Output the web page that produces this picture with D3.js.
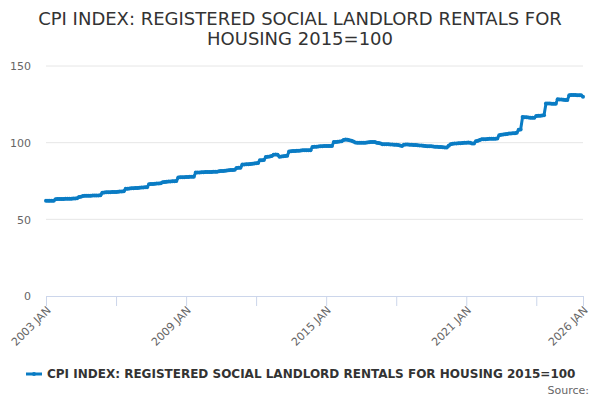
<!DOCTYPE html>
<html>
<head>
<meta charset="utf-8">
<script src="https://cdn.jsdelivr.net/npm/d3@7"></script>
<style>
    body { margin: 0; background: #fff; }
    text { font-family: "DejaVu Sans", sans-serif; }
</style>
</head>
<body>
<div id="chart"></div>
<script>
// Chart text
var TITLE_LINES = ['CPI INDEX: REGISTERED SOCIAL LANDLORD RENTALS FOR', 'HOUSING 2015=100'];
var SERIES_NAME = 'CPI INDEX: REGISTERED SOCIAL LANDLORD RENTALS FOR HOUSING 2015=100';
var SOURCE_TEXT = 'Source:';

// Monthly index values, Jan..Dec
var FIRST_YEAR = 2003;
var y2003 = [62.1, 62.1, 62.2, 62.2, 62.2, 63.1, 63.2, 63.2, 63.3, 63.3, 63.4, 63.4];
var y2004 = [63.5, 63.5, 63.6, 63.6, 63.7, 64.6, 64.8, 65.2, 65.3, 65.3, 65.4, 65.4];
var y2005 = [65.5, 65.5, 65.6, 65.6, 65.7, 67.4, 67.5, 67.6, 67.7, 67.7, 67.8, 67.8];
var y2006 = [67.9, 68.0, 68.1, 68.2, 68.3, 69.9, 70.0, 70.1, 70.2, 70.3, 70.4, 70.5];
var y2007 = [70.6, 70.7, 70.8, 70.9, 71.0, 72.9, 73.0, 73.1, 73.2, 73.3, 73.4, 73.5];
var y2008 = [74.2, 74.4, 74.5, 74.6, 74.7, 74.8, 74.9, 75.0, 77.3, 77.4, 77.5, 77.5];
var y2009 = [77.6, 77.6, 77.7, 77.7, 77.8, 80.5, 80.6, 80.6, 80.7, 80.7, 80.8, 80.8];
var y2010 = [80.9, 80.9, 81.0, 81.0, 81.1, 81.4, 81.5, 81.6, 81.7, 81.8, 82.0, 82.1];
var y2011 = [82.2, 82.4, 83.5, 83.6, 83.7, 85.7, 85.8, 85.9, 86.0, 86.1, 86.2, 86.4];
var y2012 = [86.6, 86.8, 88.5, 88.6, 88.7, 90.6, 90.8, 91.0, 91.3, 92.2, 92.3, 92.2];
var y2013 = [90.8, 90.9, 91.1, 91.3, 91.4, 94.3, 94.4, 94.5, 94.6, 94.7, 94.8, 94.9];
var y2014 = [95.0, 95.0, 95.1, 95.1, 95.1, 97.2, 97.3, 97.4, 97.5, 97.6, 97.7, 97.8];
var y2015 = [97.8, 97.9, 97.9, 97.9, 100.4, 100.5, 100.6, 100.7, 100.9, 101.8, 102.0, 101.9];
var y2016 = [101.5, 101.2, 100.8, 100.1, 100.0, 99.9, 99.9, 99.9, 100.0, 100.1, 100.3, 100.5];
var y2017 = [100.5, 100.4, 100.0, 99.8, 99.5, 99.0, 99.0, 98.9, 98.9, 98.8, 98.8, 98.7];
var y2018 = [98.6, 98.4, 98.2, 97.9, 98.6, 98.8, 98.8, 98.7, 98.6, 98.5, 98.4, 98.3];
var y2019 = [98.2, 98.1, 98.0, 97.8, 97.7, 97.7, 97.6, 97.5, 97.4, 97.3, 97.2, 97.1];
var y2020 = [97.0, 96.9, 96.8, 98.0, 99.0, 99.3, 99.4, 99.5, 99.6, 99.7, 99.8, 99.9];
var y2021 = [100.0, 100.1, 100.0, 99.5, 99.5, 100.9, 101.2, 101.8, 102.2, 102.3, 102.3, 102.4];
var y2022 = [102.5, 102.5, 102.6, 102.6, 102.7, 104.9, 105.1, 105.3, 105.5, 105.7, 105.9, 106.0];
var y2023 = [106.1, 106.2, 106.4, 108.4, 108.6, 116.7, 116.6, 116.5, 116.4, 116.3, 116.2, 116.2];
var y2024 = [117.4, 117.5, 117.6, 117.7, 117.9, 125.5, 125.5, 125.5, 125.4, 125.4, 125.4, 128.3];
var y2025 = [128.2, 128.1, 128.0, 127.9, 127.8, 131.0, 131.1, 131.1, 131.1, 131.0, 131.0, 131.0];
var y2026 = [130.0];

var YEARS = [y2003, y2004, y2005, y2006, y2007, y2008, y2009, y2010, y2011, y2012, y2013, y2014,
             y2015, y2016, y2017, y2018, y2019, y2020, y2021, y2022, y2023, y2024, y2025, y2026];

// Axis ticks
var Y_TICKS = [0, 50, 100, 150];
var X_LABEL_YEARS = [2003, 2009, 2015, 2021, 2026];
var X_TICK_MONTHS = 18;

var WIDTH = 600;
var HEIGHT = 400;
var COLOR = '#0a7cc4';
var MONTHS = ['JAN', 'FEB', 'MAR', 'APR', 'MAY', 'JUN', 'JUL', 'AUG', 'SEP', 'OCT', 'NOV', 'DEC'];

var margin = {top: 66, right: 17, bottom: 104, left: 46};

// Flatten year rows into monthly points
var points = [];
YEARS.forEach(function(row, yi) {
    row.forEach(function(v, mi) {
        points.push({date: new Date(FIRST_YEAR + yi, mi, 1), value: v});
    });
});

var svg = d3.select('#chart')
        .append('svg')
        .attr('width', WIDTH)
        .attr('height', HEIGHT);

var x = d3.scaleTime()
    .domain(d3.extent(points, function(d) { return d.date; }))
    .range([margin.left, WIDTH - margin.right]);

var y = d3.scaleLinear()
    .domain([0, 150])
    .range([HEIGHT - margin.bottom, margin.top]);

// Title
svg.append('text')
    .attr('text-anchor', 'middle')
    .attr('fill', '#333333')
    .style('font-size', '18px')
    .selectAll('tspan')
    .data(TITLE_LINES)
    .enter()
    .append('tspan')
        .attr('x', WIDTH / 2)
        .attr('y', function(d, i) { return 25 + i * 20; })
        .text(function(d) { return d; });

// Horizontal grid lines
svg.append('g')
    .selectAll('line')
    .data(Y_TICKS.filter(function(t) { return t > 0; }))
    .enter()
    .append('line')
        .attr('x1', margin.left)
        .attr('x2', WIDTH - margin.right)
        .attr('y1', function(d) { return y(d); })
        .attr('y2', function(d) { return y(d); })
        .style('stroke', '#e6e6e6')
        .style('stroke-width', 1);

// Y axis labels (no axis line)
var yAxis = svg.append('g')
    .attr('transform', 'translate(' + (margin.left - 15) + ',0)')
    .call(d3.axisLeft(y).tickValues(Y_TICKS).tickSize(0).tickPadding(0));
yAxis.select('.domain').remove();
yAxis.selectAll('text')
    .attr('fill', '#666666')
    .style('font-size', '11px')
    .attr('dy', '0.35em');

// X axis: ticks every 18 months, labels on selected years
var xTicks = d3.timeMonth.every(X_TICK_MONTHS).range(x.domain()[0], d3.timeMonth.offset(x.domain()[1], 1))
    .filter(function(d) { return (d.getFullYear() * 12 + d.getMonth() - FIRST_YEAR * 12) % X_TICK_MONTHS === 0; });
xTicks.push(x.domain()[1]);

var xAxis = svg.append('g')
    .attr('transform', 'translate(0,' + (HEIGHT - margin.bottom) + ')')
    .call(d3.axisBottom(x).tickValues(xTicks).tickSize(10).tickFormat(function(d) {
        return (d.getMonth() === 0 && X_LABEL_YEARS.indexOf(d.getFullYear()) >= 0) ?
            d.getFullYear() + ' ' + MONTHS[d.getMonth()] : '';
    }));
xAxis.select('.domain').style('stroke', '#ccd6eb');
xAxis.selectAll('.tick line').style('stroke', '#ccd6eb');
xAxis.selectAll('.tick text')
    .attr('fill', '#666666')
    .style('font-size', '11px')
    .attr('text-anchor', 'end')
    .attr('x', 0)
    .attr('y', 0)
    .attr('dy', 0)
    .attr('transform', 'translate(5,15) rotate(-45)');

// Series line and markers
var line = d3.line()
    .x(function(d) { return x(d.date); })
    .y(function(d) { return y(d.value); });

svg.append('path')
    .datum(points)
    .attr('d', line)
    .style('fill', 'none')
    .style('stroke', COLOR)
    .style('stroke-width', 3)
    .style('stroke-linejoin', 'round');

svg.append('g')
    .selectAll('circle')
    .data(points)
    .enter()
    .append('circle')
        .attr('cx', function(d) { return x(d.date); })
        .attr('cy', function(d) { return y(d.value); })
        .attr('r', 2)
        .style('fill', COLOR);

// Legend
var legend = svg.append('g').attr('transform', 'translate(26,374)');
legend.append('line')
    .attr('x1', 0).attr('x2', 16)
    .style('stroke', COLOR)
    .style('stroke-width', 3);
legend.append('circle')
    .attr('cx', 8)
    .attr('r', 2)
    .style('fill', COLOR);
legend.append('text')
    .attr('x', 21)
    .attr('y', 4)
    .attr('fill', '#333333')
    .style('font-size', '12px')
    .style('font-weight', 'bold')
    .text(SERIES_NAME);

// Source credit
svg.append('text')
    .attr('x', WIDTH - 11)
    .attr('y', HEIGHT - 6)
    .attr('text-anchor', 'end')
    .attr('fill', '#666666')
    .style('font-size', '11px')
    .text(SOURCE_TEXT);
</script>
</body>
</html>
